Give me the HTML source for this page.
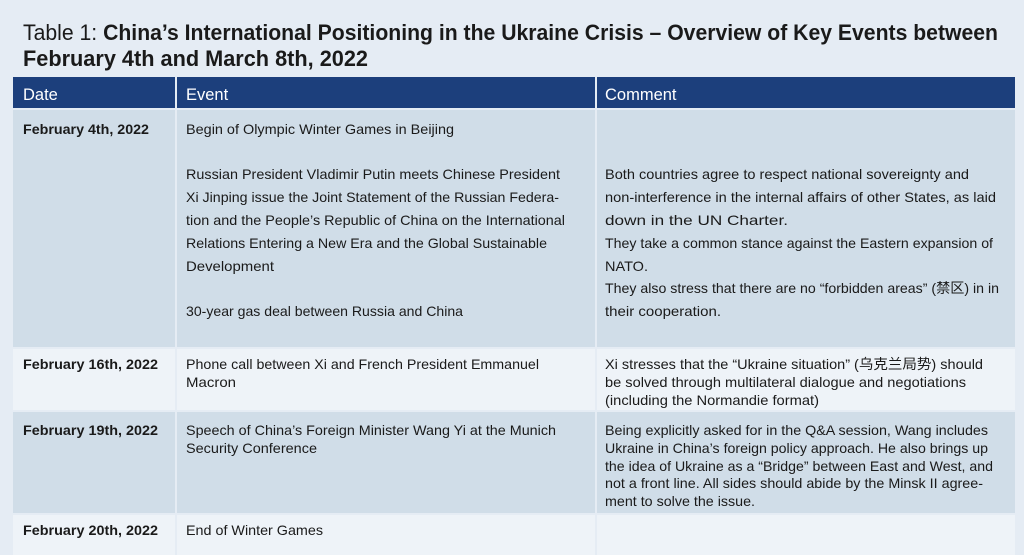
<!DOCTYPE html>
<html><head><meta charset="utf-8"><style>
body{margin:0;width:1024px;height:546px;background:#e5ecf4;position:relative;overflow:hidden;font-family:"Liberation Sans","Noto Sans CJK SC",sans-serif;color:#1a1a1a}
.a{position:absolute;white-space:nowrap}
.cell{position:absolute}
.t{position:absolute;white-space:nowrap;font-size:14px;line-height:18px;transform-origin:0 0}
.h{position:absolute;color:#fff;font-size:16.5px;line-height:20px;top:85px}
.b{font-weight:bold}
</style></head><body>
<div>
<div class="a fit" data-w="975" style="left:23px;top:20px;font-size:22px;line-height:26px;transform-origin:0 0">Table 1: <b>China’s International Positioning in the Ukraine Crisis – Overview of Key Events between</b></div>
<div class="a fit b" data-w="345" style="left:23px;top:46px;font-size:22px;line-height:26px;transform-origin:0 0">February 4th and March 8th, 2022</div>
</div>
<div>
<div class="cell" style="left:13px;top:77px;width:162px;height:31px;background:#1c3f7c"></div>
<div class="cell" style="left:177px;top:77px;width:418px;height:31px;background:#1c3f7c"></div>
<div class="cell" style="left:597px;top:77px;width:418px;height:31px;background:#1c3f7c"></div>
<div class="h" style="left:23px">Date</div><div class="h" style="left:186px">Event</div><div class="h" style="left:605px">Comment</div>

<div class="cell" style="left:13px;top:110px;width:162px;height:237px;background:#d0dde8"></div>
<div class="cell" style="left:177px;top:110px;width:418px;height:237px;background:#d0dde8"></div>
<div class="cell" style="left:597px;top:110px;width:418px;height:237px;background:#d0dde8"></div>
<div class="cell" style="left:13px;top:349px;width:162px;height:61px;background:#eef3f8"></div>
<div class="cell" style="left:177px;top:349px;width:418px;height:61px;background:#eef3f8"></div>
<div class="cell" style="left:597px;top:349px;width:418px;height:61px;background:#eef3f8"></div>
<div class="cell" style="left:13px;top:412px;width:162px;height:101px;background:#d0dde8"></div>
<div class="cell" style="left:177px;top:412px;width:418px;height:101px;background:#d0dde8"></div>
<div class="cell" style="left:597px;top:412px;width:418px;height:101px;background:#d0dde8"></div>
<div class="cell" style="left:13px;top:515px;width:162px;height:40px;background:#eef3f8"></div>
<div class="cell" style="left:177px;top:515px;width:418px;height:40px;background:#eef3f8"></div>
<div class="cell" style="left:597px;top:515px;width:418px;height:40px;background:#eef3f8"></div>

<div class="t b fit" data-w="126" style="left:23px;top:120px">February 4th, 2022</div>
<div class="t fit" data-w="268" style="left:186px;top:120px">Begin of Olympic Winter Games in Beijing</div>
<div class="t fit" data-w="374" style="left:186px;top:165px">Russian President Vladimir Putin meets Chinese President</div>
<div class="t fit" data-w="373" style="left:186px;top:188px">Xi Jinping issue the Joint Statement of the Russian Federa-</div>
<div class="t fit" data-w="379" style="left:186px;top:211px">tion and the People’s Republic of China on the International</div>
<div class="t fit" data-w="361" style="left:186px;top:234px">Relations Entering a New Era and the Global Sustainable</div>
<div class="t fit" data-w="88" style="left:186px;top:257px">Development</div>
<div class="t fit" data-w="277" style="left:186px;top:302px">30-year gas deal between Russia and China</div>
<div class="t fit" data-w="364" style="left:605px;top:165px">Both countries agree to respect national sovereignty and</div>
<div class="t fit" data-w="391" style="left:605px;top:188px">non-interference in the internal affairs of other States, as laid</div>
<div class="t fit" data-w="183" style="left:605px;top:211px">down in the UN Charter.</div>
<div class="t fit" data-w="388" style="left:605px;top:234px">They take a common stance against the Eastern expansion of</div>
<div class="t fit" data-w="43" style="left:605px;top:257px">NATO.</div>
<div class="t fit" data-w="394" style="left:605px;top:279px">They also stress that there are no “forbidden areas” (禁区) in in</div>
<div class="t fit" data-w="116" style="left:605px;top:302px">their cooperation.</div>

<div class="t b fit" data-w="135" style="left:23px;top:355px">February 16th, 2022</div>
<div class="t fit" data-w="353" style="left:186px;top:355px">Phone call between Xi and French President Emmanuel</div>
<div class="t fit" data-w="50" style="left:186px;top:373px">Macron</div>
<div class="t fit" data-w="378" style="left:605px;top:355px">Xi stresses that the “Ukraine situation” (乌克兰局势) should</div>
<div class="t fit" data-w="361" style="left:605px;top:373px">be solved through multilateral dialogue and negotiations</div>
<div class="t fit" data-w="214" style="left:605px;top:391px">(including the Normandie format)</div>

<div class="t b fit" data-w="135" style="left:23px;top:421px">February 19th, 2022</div>
<div class="t fit" data-w="370" style="left:186px;top:421px">Speech of China’s Foreign Minister Wang Yi at the Munich</div>
<div class="t fit" data-w="131" style="left:186px;top:439px">Security Conference</div>
<div class="t fit" data-w="383" style="left:605px;top:421px">Being explicitly asked for in the Q&amp;A session, Wang includes</div>
<div class="t fit" data-w="383" style="left:605px;top:439px">Ukraine in China’s foreign policy approach. He also brings up</div>
<div class="t fit" data-w="388" style="left:605px;top:457px">the idea of Ukraine as a “Bridge” between East and West, and</div>
<div class="t fit" data-w="378" style="left:605px;top:474px">not a front line. All sides should abide by the Minsk II agree-</div>
<div class="t fit" data-w="150" style="left:605px;top:492px">ment to solve the issue.</div>

<div class="t b fit" data-w="135" style="left:23px;top:521px">February 20th, 2022</div>
<div class="t fit" data-w="137" style="left:186px;top:521px">End of Winter Games</div>
</div>
<script>
document.querySelectorAll('.fit').forEach(function(el){
  var w=parseFloat(el.getAttribute('data-w'));var r=el.getBoundingClientRect().width;
  if(r>0){el.style.transform='scaleX('+(w/r)+')';}
});
</script>
</body></html>
